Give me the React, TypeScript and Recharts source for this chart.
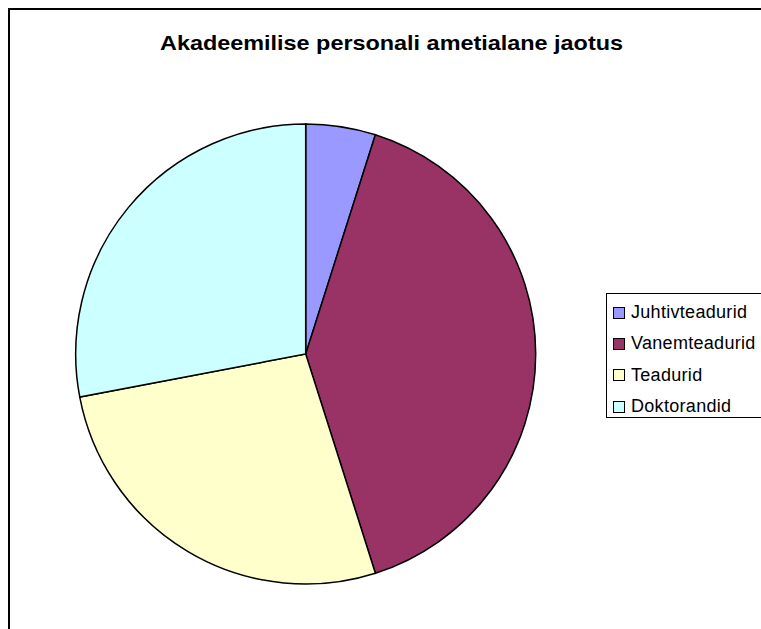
import React from 'react';
import { PieChart, Pie, Cell, Legend, Customized } from 'recharts';

const categories = ['Juhtivteadurid', 'Vanemteadurid', 'Teadurid', 'Doktorandid'];
const shares = [4.9, 40.2, 26.9, 28.0];
const colors = ['#9999FF', '#993366', '#FFFFCC', '#CCFFFF'];
const title = 'Akadeemilise personali ametialane jaotus';

const data = categories.map((name, i) => ({ name, value: shares[i] }));

const Title = () => (
  <text
    x={381.5}
    y={40}
    textAnchor="middle"
    textLength={463}
    lengthAdjust="spacingAndGlyphs"
    style={{ fontFamily: '"Liberation Sans", Arial, sans-serif', fontWeight: 'bold', fontSize: 21, fill: '#000' }}
  >
    {title}
  </text>
);

const LegendBox = (props: any) => {
  // keep the slice order, not alphabetical
  const items = [...(props.payload || [])].sort(
    (a: any, b: any) => categories.indexOf(a.value) - categories.indexOf(b.value)
  );
  return (
    <div
      style={{
        border: '1px solid #000',
        background: '#fff',
        width: 175,
        height: 125,
        boxSizing: 'border-box',
        paddingTop: 3,
        fontFamily: '"Liberation Sans", Arial, sans-serif',
        fontSize: 18,
      }}
    >
      {items.map((it: any) => (
        <div key={it.value} style={{ display: 'flex', alignItems: 'center', height: 31.3, whiteSpace: 'nowrap' }}>
          <span
            style={{
              display: 'inline-block',
              width: 10,
              height: 10,
              marginLeft: 6,
              marginRight: 6,
              background: it.color,
              border: '1px solid #000',
            }}
          />
          <span style={{ letterSpacing: 0.3 }}>{it.value}</span>
        </div>
      ))}
    </div>
  );
};

export default function App() {
  return (
    <div
      style={{
        position: 'fixed',
        left: 8,
        top: 8,
        width: 753,
        height: 621,
        overflow: 'hidden',
        borderTop: '2px solid #000',
        borderLeft: '2px solid #000',
        boxSizing: 'border-box',
        background: '#fff',
      }}
    >
      <PieChart width={751} height={619} margin={{ top: 0, right: 0, bottom: 0, left: 0 }}>
        <Customized component={Title} />
        <Pie
          data={data}
          dataKey="value"
          nameKey="name"
          cx={295.7}
          cy={344}
          outerRadius={230}
          startAngle={90}
          endAngle={-270}
          stroke="#000"
          strokeWidth={1.5}
          isAnimationActive={false}
          label={false}
          labelLine={false}
        >
          {data.map((d, i) => (
            <Cell key={d.name} fill={colors[i]} />
          ))}
        </Pie>
        <Legend
          layout="horizontal"
          verticalAlign="middle"
          align="center"
          content={<LegendBox />}
          wrapperStyle={{ position: 'absolute', left: 596, top: 283, width: 175, height: 125 }}
        />
      </PieChart>
    </div>
  );
}
